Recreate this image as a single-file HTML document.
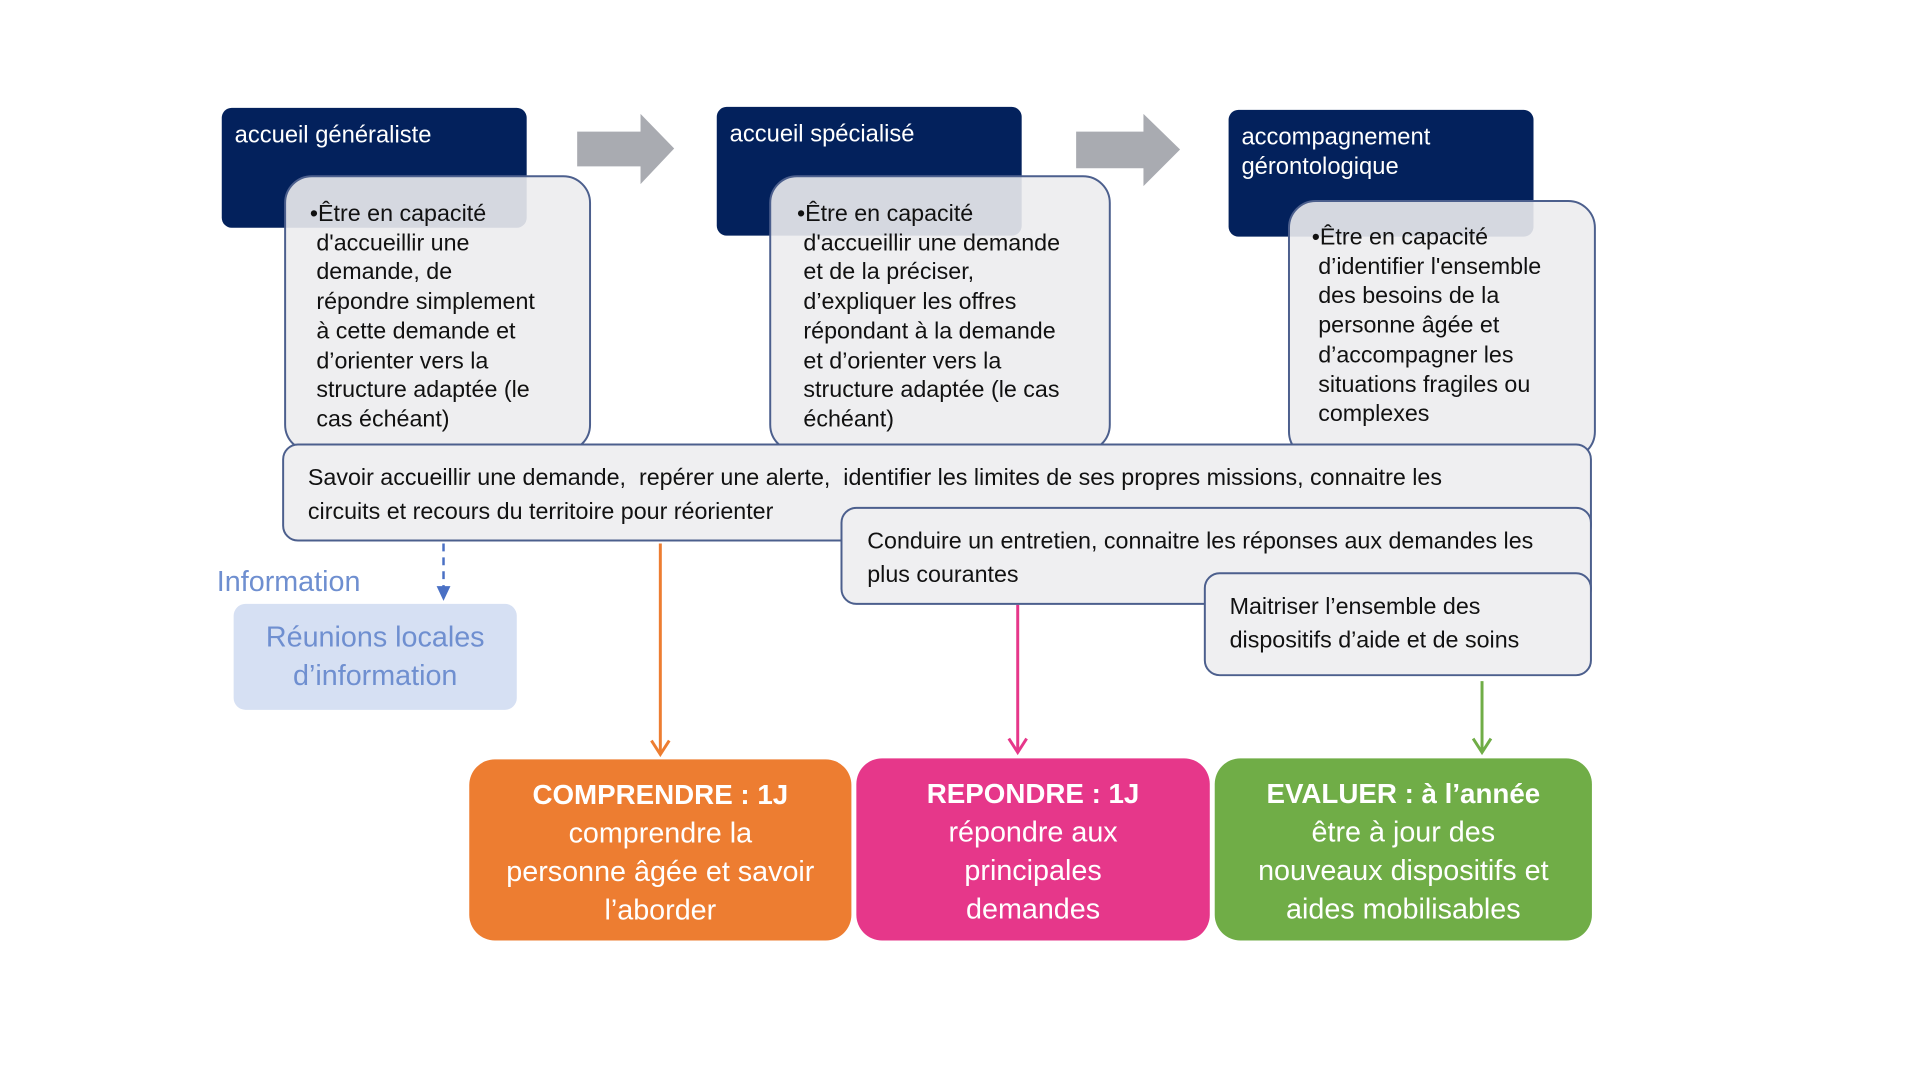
<!DOCTYPE html>
<html><head><meta charset="utf-8"><style>
body{margin:0;width:1920px;height:1080px;background:#fff;position:relative;overflow:hidden;font-family:"Liberation Sans",sans-serif;}
#w{position:absolute;left:0;top:0;width:1920px;height:1080px;transform:scale(0.99);transform-origin:0 0;}
.a{position:absolute;box-sizing:border-box;}
.dark{background:#03215c;border-radius:10px;color:#fff;font-size:24px;line-height:30px;padding:13px 13px;}
.gray{background:rgba(236,236,238,0.9);border:2px solid #4c5f8d;border-radius:28px;color:#111;font-size:23.5px;line-height:29.7px;white-space:nowrap;}
.wide{background:#efeff1;border:2px solid #4c5f8d;border-radius:16px;color:#111;font-size:23.5px;line-height:34px;white-space:nowrap;}
.bot{border-radius:26px;color:#fff;text-align:center;font-size:29px;line-height:39px;padding-top:16px;white-space:nowrap;}
.bot b{font-size:28px;}
</style></head><body><div id="w">
<svg class="a" style="left:0;top:0" width="1920" height="1080">
<polygon points="583,133 647,133 647,115 681,150 647,186 647,168 583,168" fill="#a9abb1"/>
<polygon points="1087,133 1155,133 1155,115 1192,151 1155,188 1155,170 1087,170" fill="#a9abb1"/>
<line x1="448" y1="549" x2="448" y2="596" stroke="#4a70c4" stroke-width="2.5" stroke-dasharray="8,6"/>
<polygon points="441,592 455,592 448,607" fill="#4a70c4"/>
<line x1="667" y1="549" x2="667" y2="760" stroke="#ed7d31" stroke-width="3"/>
<polyline points="658,748 667,762 676,748" fill="none" stroke="#ed7d31" stroke-width="3"/>
<line x1="1028" y1="611" x2="1028" y2="758" stroke="#e6378a" stroke-width="3"/>
<polyline points="1019,746 1028,760 1037,746" fill="none" stroke="#e6378a" stroke-width="3"/>
<line x1="1497" y1="688" x2="1497" y2="758" stroke="#70ad47" stroke-width="3"/>
<polyline points="1488,746 1497,760 1506,746" fill="none" stroke="#70ad47" stroke-width="3"/>
</svg>

<div class="a dark" style="left:224px;top:109px;width:308px;height:121px;">accueil généraliste</div>
<div class="a dark" style="left:724px;top:108px;width:308px;height:130px;">accueil spécialisé</div>
<div class="a dark" style="left:1241px;top:111px;width:308px;height:128px;">accompagnement<br>gérontologique</div>

<div class="a gray" style="left:287px;top:177px;width:310px;height:280px;padding:22px 0 0 24px;">•Être en capacité<br>&nbsp;d'accueillir une<br>&nbsp;demande, de<br>&nbsp;répondre simplement<br>&nbsp;à cette demande et<br>&nbsp;d’orienter vers la<br>&nbsp;structure adaptée (le<br>&nbsp;cas échéant)</div>
<div class="a gray" style="left:777px;top:177px;width:345px;height:280px;padding:22px 0 0 26px;">•Être en capacité<br>&nbsp;d'accueillir une demande<br>&nbsp;et de la préciser,<br>&nbsp;d’expliquer les offres<br>&nbsp;répondant à la demande<br>&nbsp;et d’orienter vers la<br>&nbsp;structure adaptée (le cas<br>&nbsp;échéant)</div>
<div class="a gray" style="left:1301px;top:202px;width:311px;height:262px;padding:21px 0 0 22px;">•Être en capacité<br>&nbsp;d’identifier l'ensemble<br>&nbsp;des besoins de la<br>&nbsp;personne âgée et<br>&nbsp;d’accompagner les<br>&nbsp;situations fragiles ou<br>&nbsp;complexes</div>

<div class="a wide" style="left:285px;top:448px;width:1323px;height:99px;padding:15px 0 0 24px;">Savoir accueillir une demande,&nbsp; repérer une alerte,&nbsp; identifier les limites de ses propres missions, connaitre les<br>circuits et recours du territoire pour réorienter</div>
<div class="a wide" style="left:849px;top:512px;width:759px;height:99px;padding:15px 0 0 25px;">Conduire un entretien, connaitre les réponses aux demandes les<br>plus courantes</div>
<div class="a wide" style="left:1216px;top:578px;width:392px;height:105px;padding:15px 0 0 24px;">Maitriser l’ensemble des<br>dispositifs d’aide et de soins</div>

<div class="a" style="left:219px;top:572px;color:#6f8fd0;font-size:29px;">Information</div>
<div class="a" style="left:236px;top:610px;width:286px;height:107px;background:#d6e0f3;border-radius:12px;color:#6f8fd0;font-size:29px;line-height:39px;text-align:center;padding-top:15px;white-space:nowrap;">Réunions locales<br>d’information</div>

<div class="a bot" style="left:474px;top:767px;width:386px;height:183px;background:#ed7d31;"><b>COMPRENDRE : 1J</b><br>comprendre la<br>personne âgée et savoir<br>l’aborder</div>
<div class="a bot" style="left:865px;top:766px;width:357px;height:184px;background:#e6378a;"><b>REPONDRE : 1J</b><br>répondre aux<br>principales<br>demandes</div>
<div class="a bot" style="left:1227px;top:766px;width:381px;height:184px;background:#70ad47;"><b>EVALUER : à l’année</b><br>être à jour des<br>nouveaux dispositifs et<br>aides mobilisables</div>
</div></body></html>
